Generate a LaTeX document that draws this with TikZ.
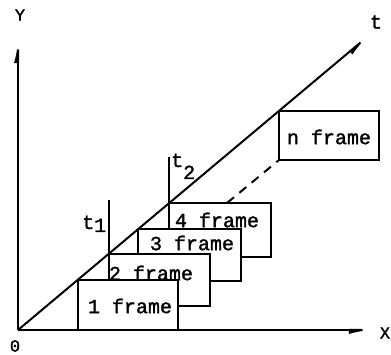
\documentclass[tikz,border=0pt]{standalone}
\usepackage{fontspec}
\setmonofont{Liberation Mono}[FakeBold=1.6]
\usetikzlibrary{arrows.meta}
\begin{document}
\begin{tikzpicture}[x=1pt,y=-1pt,
  ln/.style={line width=2pt},
  frm/.style={draw, line width=2pt, fill=white, anchor=north west, inner sep=0pt, outer sep=0pt},
  lbl/.style={font=\ttfamily\fontsize{20}{20}\selectfont, inner sep=0pt},
  axl/.style={font=\ttfamily\fontsize{17}{17}\selectfont, inner sep=0pt},
  tipl/.style={-{Latex[length=22pt,width=8pt,left]}},
  tipr/.style={-{Latex[length=22pt,width=8pt,right]}}
  ]
\useasboundingbox (0,0) rectangle (391,355);
\coordinate (O) at (18,330);
\coordinate (Ytip) at (18,33);
\coordinate (Xtip) at (379,330);
\coordinate (Ttip) at (373,32);
\coordinate (t1top) at (109,200);
\coordinate (t2top) at (169,157);
\coordinate (d0) at (227,203);
% frames, back to front
\node[frm, minimum width=102pt, minimum height=54pt] (b4) at (169,203) {};
\node[frm, minimum width=103pt, minimum height=52pt] (b3) at (138,229) {};
\node[frm, minimum width=101pt, minimum height=52pt] (b2) at (109,254) {};
\node[frm, minimum width=100pt, minimum height=50pt] (b1) at (78,280) {};
\node[frm, minimum width=100pt, minimum height=49pt] (bn) at (279,111) {};
% frame labels
\node[lbl] (l1) at (130,306) {1 frame};
\node[lbl] (l2) at (151,273) {2 frame};
\node[lbl] (l3) at (192,243) {3 frame};
\node[lbl] (l4) at (217,220) {4 frame};
\node[lbl] (ln) at (329,137) {n frame};
% axes
\draw[ln, tipl] (O) -- (Ytip);
\draw[ln, tipr] (O) -- (Xtip);
\draw[ln, tipr] (O) -- (Ttip);
% time marks
\draw[ln] (t1top) -- (b2.north west);
\draw[ln] (t2top) -- (b4.north west);
\draw[ln, dash pattern=on 9pt off 7pt] (d0) -- (bn.south west);
% labels
\node[axl] (ylab) at (20,15) {Y};
\node[axl] (xlab) at (385,333) {X};
\node[axl] (zero) at (15,346) {0};
\node[lbl] (tlab) at (376,22) {t};
\node[lbl, anchor=base west] (t1lab) at (82,229) {t\raisebox{-3pt}{1}};
\node[lbl, anchor=base west] (t2lab) at (171,167) {t\raisebox{-12pt}{2}};
\end{tikzpicture}
\end{document}
